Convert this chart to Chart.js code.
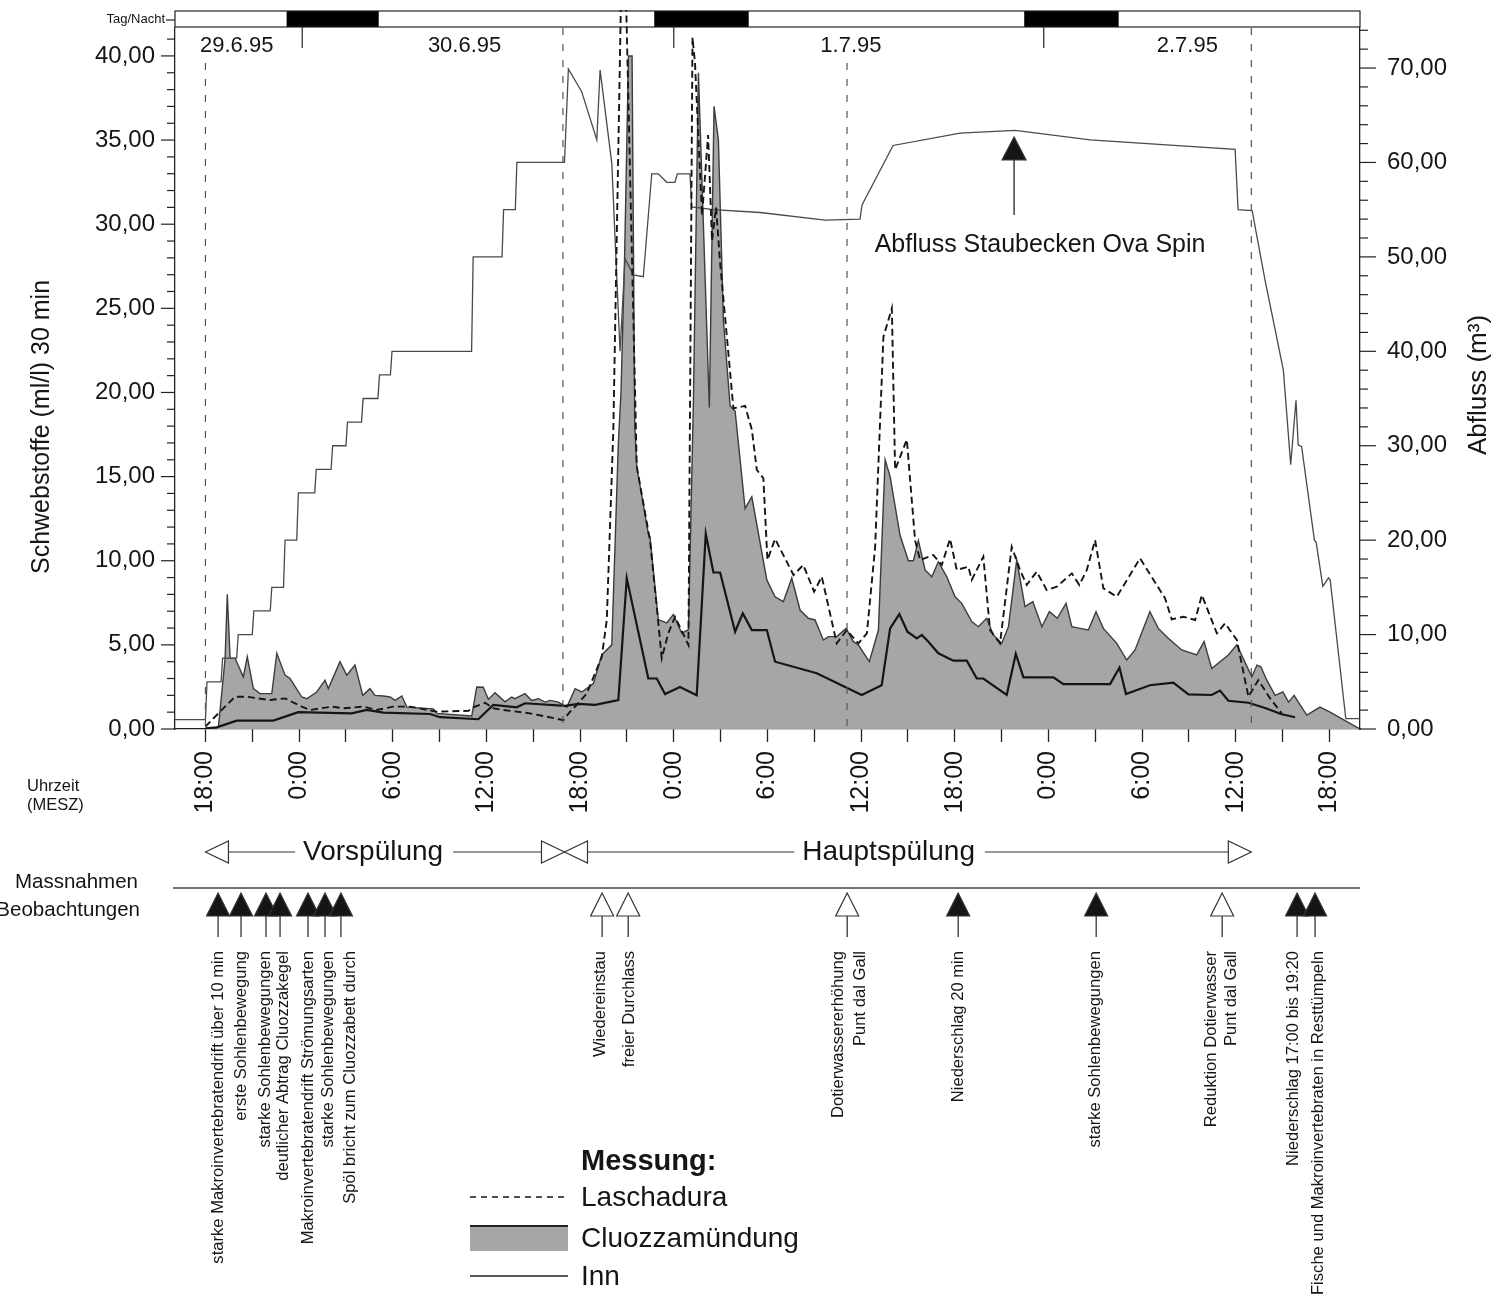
<!DOCTYPE html>
<html>
<head>
<meta charset="utf-8">
<script src="https://cdn.jsdelivr.net/npm/chart.js@4.4.1/dist/chart.umd.min.js"></script>
<style>
  html, body { margin: 0; padding: 0; background: #fff; }
  #wrap { width: 1506px; height: 1300px; position: relative; }
</style>
</head>
<body>
<div id="wrap"><canvas id="chart"></canvas></div>
<script>
// Zeit in Stunden ab 29.6.95 0:00
const schwebTicks = [0, 5, 10, 15, 20, 25, 30, 35, 40];
const abflussTicks = [0, 10, 20, 30, 40, 50, 60, 70];
const hourTicks = [18, 21, 24, 27, 30, 33, 36, 39, 42, 45, 48, 51, 54, 57, 60, 63, 66, 69, 72, 75, 78, 81, 84, 87, 90];

// Abfluss (rechte Achse)
const abflussHours = [16.05, 18.0, 18.1, 19.0, 19.1, 20.0, 20.1, 21.0, 21.1, 22.15, 22.25, 23.0, 23.1, 23.85, 23.95,
  25.0, 25.1, 26.05, 26.15, 27.0, 27.1, 28.0, 28.1, 29.05, 29.15, 29.85, 29.95, 35.05, 35.15, 37.0, 37.1, 37.85, 37.95,
  41.0, 41.25, 42.1, 43.07, 43.28, 44.03, 44.56, 44.88, 45.41, 46.05, 46.59, 47.01, 47.55, 48.08, 48.23, 49.04, 49.15,
  50.54, 53.53, 57.69, 59.93, 60.06, 62.05, 66.34, 69.87, 74.67, 83.96, 84.15, 85.05, 85.88, 87.05, 87.52, 87.86,
  88.0, 88.22, 89.04, 89.15, 89.58, 89.94, 90.05, 91.05, 91.96];
const abflussValues = [1.0, 1.0, 5.0, 5.0, 7.5, 7.5, 10.0, 10.0, 12.5, 12.5, 15.0, 15.0, 20.0, 20.0, 25.0,
  25.0, 27.5, 27.5, 30.0, 30.0, 32.5, 32.5, 35.0, 35.0, 37.5, 37.5, 40.0, 40.0, 50.0, 50.0, 55.0, 55.0, 60.0,
  60.0, 69.9, 67.5, 62.4, 69.8, 59.9, 40.0, 49.8, 48.1, 47.9, 58.8, 58.8, 57.9, 57.9, 58.8, 58.8, 55.3,
  55.0, 54.7, 53.9, 54.0, 55.5, 61.8, 63.1, 63.4, 62.4, 61.4, 55.0, 54.9, 47.5, 38.0, 28.0, 34.8,
  30.1, 29.9, 20.0, 19.8, 15.1, 16.0, 15.8, 1.1, 1.1];

// Cluozzamündung (Fläche)
const cluozzaHours = [18.0, 18.83, 19.26, 19.4, 19.58, 19.9, 20.43, 20.68, 21.07, 21.5, 22.25, 22.57, 23.1, 23.42,
  24.17, 24.49, 25.13, 25.66, 25.87, 26.62, 27.05, 27.58, 28.08, 28.54, 28.86, 29.4, 29.83, 30.15, 30.58, 30.9,
  32.6, 32.82, 35.06, 35.38, 35.8, 36.12, 36.55, 37.19, 37.62, 37.83, 38.47, 38.9, 39.33, 39.76, 40.08, 40.61,
  41.15, 41.68, 42.11, 42.85, 43.39, 44.03, 44.45, 44.62, 44.85, 45.1, 45.33, 45.5, 45.63, 46.37, 46.48, 47.01,
  47.55, 47.97, 48.51, 48.94, 49.26, 49.58, 50.28, 50.58, 50.86, 51.18, 51.61, 51.93, 52.57, 53.0, 53.96, 54.49,
  55.02, 55.56, 56.09, 56.62, 57.05, 57.58, 57.9, 58.44, 59.04, 59.51, 59.83, 60.53, 61.11, 61.54, 61.86, 62.5,
  63.03, 63.35, 63.67, 64.1, 64.53, 64.95, 65.49, 66.02, 66.45, 67.09, 67.51, 68.05, 68.47, 69.01, 69.44, 69.97,
  70.5, 71.0, 71.58, 72.06, 72.57, 73.13, 73.5, 74.03, 74.56, 75.05, 75.52, 76.38, 77.02, 77.55, 78.5, 79.04,
  79.68, 80.54, 81.5, 81.97, 82.46, 82.99, 83.53, 84.07, 85.03, 85.36, 85.61, 85.99, 86.52, 87.02, 87.38, 87.74,
  88.01, 88.55, 89.4, 90.04, 91.96];
const cluozzaValues = [0.0, 0.1, 4.2, 8.0, 4.2, 4.2, 3.1, 4.3, 2.4, 2.1, 2.1, 4.5, 3.2, 3.0,
  1.9, 1.8, 2.2, 2.9, 2.4, 4.0, 3.2, 3.8, 2.0, 2.4, 2.0, 1.96, 1.9, 1.7, 1.96, 1.3,
  1.2, 0.93, 0.77, 2.5, 2.48, 1.76, 2.16, 1.62, 1.9, 1.8, 2.1, 1.7, 1.8, 1.6, 1.7, 1.6,
  1.3, 2.4, 2.2, 2.7, 4.4, 5.0, 17.0, 20.0, 28.0, 40.0, 40.0, 18.0, 15.6, 11.6, 11.4, 6.5,
  6.3, 6.8, 5.7, 5.9, 19.5, 39.0, 19.1, 37.0, 35.0, 24.3, 19.2, 18.9, 13.1, 13.8, 8.86, 7.86,
  7.57, 8.96, 7.07, 6.58, 6.48, 5.29, 5.49, 5.49, 5.98, 5.19, 4.99, 4.0, 5.88, 16.0, 15.0, 11.5,
  10.0, 10.0, 11.2, 9.45, 9.05, 9.94, 9.05, 7.86, 7.47, 6.38, 6.08, 6.58, 5.59, 5.09, 6.08, 10.04,
  7.27, 7.57, 6.08, 6.97, 6.58, 7.47, 6.08, 5.98, 5.88, 6.97, 5.98, 5.09, 4.1, 4.7, 6.97, 5.98,
  5.39, 4.7, 4.4, 5.19, 3.6, 4.0, 4.4, 5.0, 3.1, 3.8, 3.7, 2.9, 2.0, 2.2, 1.6, 2.0,
  1.6, 0.83, 1.3, 1.0, 0.0];

// Inn
const innHours = [18.0, 18.72, 20.0, 22.35, 23.95, 27.37, 28.33, 29.4, 32.39, 33.03, 35.48, 36.44, 37.94, 38.47,
  41.04, 41.89, 42.96, 44.45, 44.99, 46.37, 46.91, 47.44, 48.4, 49.47, 50.05, 50.54, 50.97, 51.93, 52.42, 53.0,
  53.96, 54.49, 57.16, 60.04, 61.32, 61.86, 62.45, 62.97, 63.57, 63.89, 64.31, 64.95, 65.91, 66.77, 67.41, 67.83,
  69.33, 69.91, 70.4, 72.32, 72.96, 75.95, 76.55, 76.97, 78.5, 80.0, 80.97, 82.46, 82.99, 83.53, 84.81, 85.93,
  86.89, 87.8];
const innValues = [0.04, 0.1, 0.5, 0.5, 1.0, 0.93, 1.13, 0.97, 0.89, 0.7, 0.58, 1.43, 1.29, 1.53,
  1.37, 1.49, 1.43, 1.72, 8.96, 3.0, 3.0, 2.08, 2.5, 2.0, 11.6, 9.3, 9.3, 5.78, 6.87, 5.88,
  5.88, 4.0, 3.31, 2.02, 2.6, 5.98, 6.83, 5.78, 5.39, 5.59, 5.19, 4.5, 4.06, 4.06, 3.0, 3.0,
  2.02, 4.46, 3.07, 3.07, 2.67, 2.67, 3.65, 2.08, 2.6, 2.75, 2.06, 2.02, 2.28, 1.68, 1.56, 1.23,
  0.89, 0.7];

// Laschadura
const laschHours = [18.0, 18.4, 18.94, 19.36, 19.9, 20.65, 21.39, 22.14, 23.1, 23.53, 24.17, 24.7, 26.09, 26.83,
  28.12, 28.97, 30.04, 31.11, 32.82, 34.84, 35.27, 35.91, 36.44, 37.08, 37.94, 38.79, 39.86, 40.93, 41.36, 41.89,
  42.43, 42.96, 43.39, 43.71, 44.13, 44.67, 44.88, 45.63, 46.48, 46.91, 47.23, 47.65, 48.08, 48.94, 49.2, 49.36,
  49.81, 50.2, 50.45, 50.71, 50.97, 51.82, 52.57, 53.0, 53.32, 53.74, 54.0, 54.49, 55.67, 56.3, 56.99, 57.48,
  58.44, 59.08, 59.83, 60.37, 60.9, 61.43, 61.97, 62.18, 62.93, 63.46, 63.78, 64.63, 65.17, 65.7, 66.13, 66.87,
  67.09, 67.83, 68.26, 68.9, 69.65, 70.18, 70.61, 71.25, 71.89, 72.54, 73.5, 73.98, 74.46, 74.99, 75.52, 76.38,
  77.87, 79.47, 79.9, 80.65, 81.4, 81.83, 82.79, 83.32, 84.07, 84.81, 85.45, 86.2, 86.95];
const laschValues = [0.14, 0.53, 1.03, 1.43, 1.92, 1.92, 1.82, 1.72, 1.82, 1.62, 1.33, 1.13, 1.33, 1.23,
  1.33, 1.13, 1.33, 1.33, 1.03, 1.08, 1.33, 1.56, 1.23, 1.13, 1.03, 0.93, 0.73, 0.53, 1.03, 1.53,
  2.12, 3.31, 4.3, 6.48, 17.8, 46.0, 46.0, 15.6, 11.2, 7.27, 4.2, 5.69, 6.67, 4.99, 41.1, 39.6,
  30.5, 35.3, 29.0, 31.0, 27.7, 19.06, 19.2, 17.8, 15.4, 14.9, 10.04, 11.3, 9.15, 9.75, 8.16, 9.05,
  5.09, 5.88, 5.09, 5.69, 10.8, 23.3, 25.0, 15.4, 17.2, 11.2, 10.04, 10.34, 9.75, 11.3, 9.45, 9.65,
  8.86, 10.24, 5.88, 5.09, 10.83, 9.45, 8.56, 9.35, 8.26, 8.46, 9.25, 8.56, 9.45, 11.23, 8.36, 7.86,
  10.14, 7.77, 6.52, 6.67, 6.48, 7.96, 5.69, 6.28, 5.29, 1.92, 2.91, 1.82, 0.93];

// Tag/Nacht und Datum
const nightStart = [23.2, 46.75, 70.45];
const nightEnd = [29.1, 52.8, 76.5];
const dayBreakHours = [24.2, 48.0, 71.7];
const dateLabels = ['29.6.95', '30.6.95', '1.7.95', '2.7.95'];
const dateHours = [20.0, 34.6, 59.35, 80.9];
const markerHours = [18, 40.9, 59.1, 85.0];

// Spülphasen
const phaseNames = ['Vorspülung', 'Hauptspülung'];
const phaseStart = [18, 41];
const phaseEnd = [41, 85];
const phaseLabelHours = [28.74, 61.76];

// Massnahmen / Beobachtungen
const eventHours = [18.81, 20.28, 21.88, 22.78, 24.57, 25.66, 26.68, 43.41, 45.08, 59.11, 66.22, 75.06, 83.13, 87.93, 89.08];
const eventFilled = [true, true, true, true, true, true, true, false, false, false, true, true, false, true, true];
const noteHours = [18.86, 20.28, 21.86, 23.0, 24.57, 25.85, 27.26, 43.3, 45.17, 58.55, 59.98, 66.21, 74.99, 82.42, 83.7, 87.72, 89.27];
const noteTexts = ['starke Makroinvertebratendrift über 10 min', 'erste Sohlenbewegung', 'starke Sohlenbewegungen',
  'deutlicher Abtrag Cluozzakegel', 'Makroinvertebratendrift Strömungsarten', 'starke Sohlenbewegungen',
  'Spöl bricht zum Cluozzabett durch', 'Wiedereinstau', 'freier Durchlass', 'Dotierwassererhöhung', 'Punt dal Gall',
  'Niederschlag 20 min', 'starke Sohlenbewegungen', 'Reduktion Dotierwasser', 'Punt dal Gall',
  'Niederschlag 17:00 bis 19:20', 'Fische und Makroinvertebraten in Resttümpeln'];

const ovaSpinHour = 69.8;

const FONT = '"Liberation Sans", Arial, Helvetica, sans-serif';
const INK = '#151515';
const GREY_FILL = '#a6a6a6';

const toPoints = (hours, values) => hours.map((h, i) => ({ x: h, y: values[i] }));
const fmt = v => v.toFixed(2).replace('.', ',');

const tri = (ctx, tipX, tipY, dir, w, h, filled) => {
    // dir: 'left', 'right', 'up'
    ctx.beginPath();
    if (dir === 'up') {
        ctx.moveTo(tipX, tipY);
        ctx.lineTo(tipX - w / 2, tipY + h);
        ctx.lineTo(tipX + w / 2, tipY + h);
    } else {
        const s = dir === 'left' ? 1 : -1;
        ctx.moveTo(tipX, tipY);
        ctx.lineTo(tipX + s * w, tipY - h / 2);
        ctx.lineTo(tipX + s * w, tipY + h / 2);
    }
    ctx.closePath();
    ctx.fillStyle = filled ? INK : '#fff';
    ctx.fill();
    ctx.lineWidth = 1.2;
    ctx.strokeStyle = '#333';
    ctx.stroke();
};

const line = (ctx, x1, y1, x2, y2) => {
    ctx.beginPath();
    ctx.moveTo(x1, y1);
    ctx.lineTo(x2, y2);
    ctx.stroke();
};

const decorations = {
    id: 'decorations',
    beforeDatasetsDraw(chart) {
        const ctx = chart.ctx;
        const x = chart.scales.x;
        const area = chart.chartArea;
        ctx.save();

        // Tag/Nacht-Balken
        ctx.fillStyle = '#fff';
        ctx.fillRect(area.left, 11, area.right - area.left, 16);
        ctx.fillStyle = '#000';
        nightStart.forEach((s, i) => {
            const a = x.getPixelForValue(s), b = x.getPixelForValue(nightEnd[i]);
            ctx.fillRect(a, 11, b - a, 16);
        });
        ctx.strokeStyle = '#222';
        ctx.lineWidth = 1.2;
        ctx.strokeRect(area.left, 11, area.right - area.left, 16);
        line(ctx, 166, 20, area.left, 20);
        dayBreakHours.forEach(h => {
            const px = x.getPixelForValue(h);
            line(ctx, px, 27, px, 48);
        });
        ctx.fillStyle = INK;
        ctx.font = `13px ${FONT}`;
        ctx.textAlign = 'right';
        ctx.textBaseline = 'middle';
        ctx.fillText('Tag/Nacht', 165, 19);

        ctx.font = `22px ${FONT}`;
        ctx.textAlign = 'center';
        dateLabels.forEach((d, i) => ctx.fillText(d, x.getPixelForValue(dateHours[i]), 46));

        // Achsenstriche links / rechts
        const yl = chart.scales.y, yr = chart.scales.y1;
        ctx.strokeStyle = '#222';
        ctx.lineWidth = 1.2;
        for (let v = 0; v <= 41; v++) {
            const py = yl.getPixelForValue(v);
            const len = v % 5 === 0 ? 14 : 8;
            line(ctx, area.left - len, py, area.left, py);
        }
        for (let v = 0; v <= 74; v += 2) {
            const py = yr.getPixelForValue(v);
            const len = v % 10 === 0 ? 16 : 8;
            line(ctx, area.right, py, area.right + len, py);
        }
        ctx.restore();
    },
    afterDatasetsDraw(chart) {
        const ctx = chart.ctx;
        const x = chart.scales.x;
        const yr = chart.scales.y1;
        const area = chart.chartArea;
        ctx.save();

        // gestrichelte Zeitmarken
        ctx.strokeStyle = '#555';
        ctx.lineWidth = 1.2;
        ctx.setLineDash([7, 9]);
        markerHours.forEach((h, i) => {
            const px = x.getPixelForValue(h);
            const top = (i === 0 || i === 2) ? 63 : area.top;
            line(ctx, px, top, px, area.bottom);
        });
        ctx.setLineDash([]);

        // Abfluss Staubecken Ova Spin
        const ax = x.getPixelForValue(ovaSpinHour);
        const tipY = yr.getPixelForValue(62.7);
        tri(ctx, ax, tipY, 'up', 24, 23, true);
        ctx.strokeStyle = '#222';
        ctx.lineWidth = 1.3;
        line(ctx, ax, tipY + 23, ax, tipY + 78);
        ctx.fillStyle = INK;
        ctx.font = `25px ${FONT}`;
        ctx.textAlign = 'center';
        ctx.textBaseline = 'middle';
        ctx.fillText('Abfluss Staubecken Ova Spin', ax + 26, tipY + 108);
        ctx.restore();
    },
    afterDraw(chart) {
        const ctx = chart.ctx;
        const x = chart.scales.x;
        const area = chart.chartArea;
        ctx.save();
        ctx.fillStyle = INK;
        ctx.textBaseline = 'middle';

        // Achsentitel
        ctx.font = `25px ${FONT}`;
        ctx.textAlign = 'center';
        ctx.save();
        ctx.translate(42, 427);
        ctx.rotate(-Math.PI / 2);
        ctx.fillText('Schwebstoffe (ml/l) 30 min', 0, 0);
        ctx.restore();
        ctx.save();
        ctx.font = `26px ${FONT}`;
        ctx.translate(1479, 385);
        ctx.rotate(-Math.PI / 2);
        ctx.fillText('Abfluss (m³)', 0, 0);
        ctx.restore();

        ctx.font = `16.5px ${FONT}`;
        ctx.textAlign = 'left';
        ctx.fillText('Uhrzeit', 27, 786);
        ctx.fillText('(MESZ)', 27, 805);

        // Spülphasen
        const py = 852;
        ctx.font = `28px ${FONT}`;
        phaseNames.forEach((name, i) => {
            const xs = x.getPixelForValue(phaseStart[i]);
            const xe = x.getPixelForValue(phaseEnd[i]);
            const xt = x.getPixelForValue(phaseLabelHours[i]);
            const tw = ctx.measureText(name).width;
            ctx.strokeStyle = '#333';
            ctx.lineWidth = 1.2;
            line(ctx, xs + 23, py, xt - tw / 2 - 8, py);
            line(ctx, xt + tw / 2 + 10, py, xe - 23, py);
            tri(ctx, xs, py, 'left', 23, 22, false);
            tri(ctx, xe, py, 'right', 23, 22, false);
            ctx.fillStyle = INK;
            ctx.textAlign = 'center';
            ctx.fillText(name, xt, py);
        });

        // Massnahmen / Beobachtungen
        ctx.font = `20.5px ${FONT}`;
        ctx.textAlign = 'right';
        ctx.fillStyle = INK;
        ctx.fillText('Massnahmen', 138, 882);
        ctx.fillText('Beobachtungen', 140, 910);
        ctx.strokeStyle = '#444';
        ctx.lineWidth = 1.5;
        line(ctx, 173, 888, area.right, 888);

        eventHours.forEach((h, i) => {
            const ex = x.getPixelForValue(h);
            ctx.strokeStyle = '#222';
            ctx.lineWidth = 1.2;
            line(ctx, ex, 915, ex, 937);
            tri(ctx, ex, 893, 'up', 23, 23, eventFilled[i]);
        });

        ctx.fillStyle = INK;
        ctx.font = `16.6px ${FONT}`;
        ctx.textAlign = 'right';
        noteTexts.forEach((t, i) => {
            ctx.save();
            ctx.translate(x.getPixelForValue(noteHours[i]), 951);
            ctx.rotate(-Math.PI / 2);
            ctx.fillText(t, 0, 0);
            ctx.restore();
        });

        // Legende
        ctx.font = `bold 29px ${FONT}`;
        ctx.textAlign = 'left';
        ctx.fillText('Messung:', 581, 1162);
        ctx.font = `28px ${FONT}`;
        ctx.strokeStyle = INK;
        ctx.lineWidth = 1.6;
        ctx.setLineDash([6, 5]);
        line(ctx, 470, 1197, 568, 1197);
        ctx.setLineDash([]);
        ctx.fillText('Laschadura', 581, 1198);
        ctx.fillStyle = GREY_FILL;
        ctx.fillRect(470, 1226, 98, 25);
        ctx.strokeStyle = '#222';
        ctx.lineWidth = 2;
        line(ctx, 470, 1226, 568, 1226);
        ctx.fillStyle = INK;
        ctx.fillText('Cluozzamündung', 581, 1239);
        ctx.lineWidth = 1.6;
        line(ctx, 470, 1276, 568, 1276);
        ctx.fillText('Inn', 581, 1277);
        ctx.restore();
    }
};

Chart.defaults.font.family = FONT;
Chart.defaults.color = INK;

const noPadV = s => { s.paddingTop = 0; s.paddingBottom = 0; };

new Chart(document.getElementById('chart'), {
    type: 'line',
    data: {
        datasets: [
            {
                label: 'Laschadura',
                data: toPoints(laschHours, laschValues),
                yAxisID: 'y',
                borderColor: INK,
                borderWidth: 1.9,
                borderDash: [7, 4],
                fill: false,
                order: 1,
                clip: { left: 0, top: 18, right: 0, bottom: 0 }
            },
            {
                label: 'Inn',
                data: toPoints(innHours, innValues),
                yAxisID: 'y',
                borderColor: INK,
                borderWidth: 2.2,
                fill: false,
                order: 2
            },
            {
                label: 'Abfluss',
                data: toPoints(abflussHours, abflussValues),
                yAxisID: 'y1',
                borderColor: '#4a4a4a',
                borderWidth: 1.3,
                fill: false,
                order: 3
            },
            {
                label: 'Cluozzamündung',
                data: toPoints(cluozzaHours, cluozzaValues),
                yAxisID: 'y',
                borderColor: '#3c3c3c',
                borderWidth: 1.4,
                backgroundColor: GREY_FILL,
                fill: 'origin',
                order: 4
            }
        ]
    },
    options: {
        responsive: true,
        maintainAspectRatio: false,
        animation: false,
        layout: { padding: { top: 28, left: 0, right: 0, bottom: 0 } },
        elements: { point: { radius: 0 }, line: { tension: 0 } },
        plugins: {
            legend: { display: false },
            tooltip: { enabled: false }
        },
        scales: {
            x: {
                type: 'linear',
                min: 16.05,
                max: 91.96,
                afterBuildTicks: s => { s.ticks = hourTicks.map(v => ({ value: v })); },
                afterFit: s => { s.height = 571; s.paddingLeft = 0; s.paddingRight = 0; },
                grid: { display: true, drawOnChartArea: false, drawTicks: true, tickLength: 13, tickColor: '#222', tickWidth: 1.3 },
                border: { display: true, color: '#222', width: 1.3 },
                ticks: {
                    autoSkip: false,
                    minRotation: 90,
                    maxRotation: 90,
                    padding: 9,
                    font: { size: 25 },
                    callback: v => (v % 6 === 0 ? (v % 24) + ':00' : '')
                }
            },
            y: {
                position: 'left',
                min: 0,
                max: 41.66,
                afterBuildTicks: s => { s.ticks = schwebTicks.map(v => ({ value: v })); },
                afterFit: s => { s.width = 175; noPadV(s); },
                grid: { display: false, drawTicks: false },
                border: { display: true, color: '#222', width: 1.3 },
                ticks: { padding: 20, font: { size: 24 }, callback: v => fmt(v) }
            },
            y1: {
                position: 'right',
                min: 0,
                max: 74.24,
                afterBuildTicks: s => { s.ticks = abflussTicks.map(v => ({ value: v })); },
                afterFit: s => { s.width = 146; noPadV(s); },
                grid: { display: false, drawTicks: false },
                border: { display: true, color: '#222', width: 1.3 },
                ticks: { padding: 27, font: { size: 24 }, callback: v => fmt(v) }
            }
        }
    },
    plugins: [decorations]
});
</script>
</body>
</html>
